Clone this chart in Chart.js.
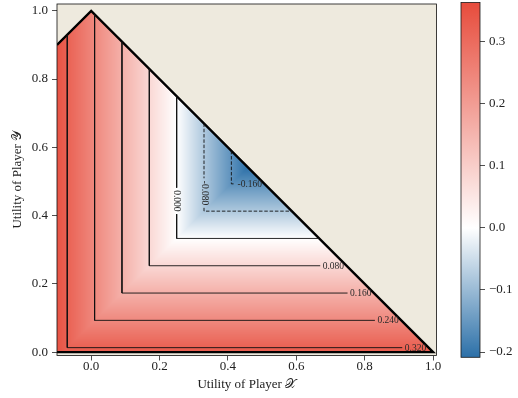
<!DOCTYPE html>
<html>
<head>
<meta charset="utf-8">
<script src="https://cdn.jsdelivr.net/npm/chart.js@4.4.1/dist/chart.umd.min.js"></script>
<style>
  body { margin: 0; background: #fff; }
  #wrap { position: relative; width: 518px; height: 398px; }
  #main { position: absolute; left: 0; top: 0; }
  #cbar { position: absolute; left: 437px; top: 0; }
</style>
</head>
<body>
<div id="wrap">
  <canvas id="main" width="518" height="398"></canvas>
  <canvas id="cbar" width="81" height="398"></canvas>
</div>
<script>
// ticks
const xTicks = [0.0, 0.2, 0.4, 0.6, 0.8, 1.0];
const yTicks = [0.0, 0.2, 0.4, 0.6, 0.8, 1.0];
const cbarTicks = [-0.2, -0.1, 0.0, 0.1, 0.2, 0.3];
// contour levels
const levels = [-0.16, -0.08, 0.0, 0.08, 0.16, 0.24, 0.32];
// payoff frontier (upper chain then back along the bottom)
const frontierX = [-0.1, 0.0, 1.0, -0.1];
const frontierY = [0.9, 1.0, 0.0, 0.0];
// utility at which the surface crosses zero, for X and for Y
const zeroAt = [0.25, 0.333];
// colour range
const valueRange = [-0.2085, 0.3635];

const FONT = "'Liberation Serif', 'DejaVu Serif', serif";
const RED = [231, 76, 60], BLUE = [44, 112, 168], BEIGE = [238, 234, 222];

function surface(x, y) {
  return Math.max(zeroAt[0] - x, zeroAt[1] - y);
}

function colour(v) {
  let t, c;
  if (v >= 0) { t = Math.min(v / valueRange[1], 1); c = RED; }
  else { t = Math.min(v / valueRange[0], 1); c = BLUE; }
  return c.map(k => Math.round(255 + (k - 255) * t));
}

function inside(x, y) {
  let hit = false;
  for (let i = 0, j = frontierX.length - 1; i < frontierX.length; j = i++) {
    const xi = frontierX[i], yi = frontierY[i], xj = frontierX[j], yj = frontierY[j];
    if ((yi > y) !== (yj > y) && x < (xj - xi) * (y - yi) / (yj - yi) + xi) hit = !hit;
  }
  return hit;
}

// frontier height above x (upper chain = first three points)
function topAt(x) {
  for (let i = 0; i < 2; i++) {
    const x0 = frontierX[i], x1 = frontierX[i + 1];
    if (x >= x0 && x <= x1) return frontierY[i] + (x - x0) * (frontierY[i + 1] - frontierY[i]) / (x1 - x0);
  }
  return 0;
}
// frontier x at height y on the falling edge
function rightAt(y) {
  const x0 = frontierX[1], y0 = frontierY[1], x1 = frontierX[2], y1 = frontierY[2];
  return x0 + (y - y0) * (x1 - x0) / (y1 - y0);
}

const labelFont = `9.5px ${FONT}`;
const mctx = document.createElement('canvas').getContext('2d');
mctx.font = labelFont;
const labelText = v => v.toFixed(3);
const labelW = v => mctx.measureText(labelText(v)).width + 5;
// levels whose label sits on the vertical leg, and where
const verticalLabelY = new Map([[0, 0.443], [-0.08, 0.466]]);

// heat map
const surfacePlugin = {
  id: 'surface',
  beforeDraw(chart) {
    const { ctx, chartArea: a, scales: { x, y } } = chart;
    const w = Math.ceil(a.right - a.left), h = Math.ceil(a.bottom - a.top);
    const img = ctx.createImageData(w, h);
    for (let j = 0; j < h; j++) {
      const vy = y.getValueForPixel(a.top + j + 0.5);
      for (let i = 0; i < w; i++) {
        const vx = x.getValueForPixel(a.left + i + 0.5);
        const c = inside(vx, vy) ? colour(surface(vx, vy)) : BEIGE;
        const k = (j * w + i) * 4;
        img.data[k] = c[0]; img.data[k + 1] = c[1]; img.data[k + 2] = c[2]; img.data[k + 3] = 255;
      }
    }
    ctx.putImageData(img, Math.round(a.left), Math.round(a.top));
  }
};

const labelPlugin = {
  id: 'clabels',
  afterDatasetsDraw(chart) {
    const { ctx, scales: { x, y } } = chart;
    ctx.save();
    ctx.font = labelFont;
    ctx.fillStyle = '#2a2a2a';
    ctx.textBaseline = 'middle';
    levels.forEach(v => {
      const xv = zeroAt[0] - v, yh = zeroAt[1] - v;
      if (verticalLabelY.has(v)) {
        ctx.save();
        ctx.translate(x.getPixelForValue(xv), y.getPixelForValue(verticalLabelY.get(v)));
        ctx.rotate(Math.PI / 2);
        ctx.textAlign = 'center';
        ctx.fillText(labelText(v), 0, 0);
        ctx.restore();
      } else {
        ctx.textAlign = 'left';
        ctx.fillText(labelText(v), x.getPixelForValue(rightAt(yh)) - labelW(v) + 2.5, y.getPixelForValue(yh) + 0.5);
      }
    });
    ctx.restore();
  },
  afterDraw(chart) {
    const { ctx, chartArea: a } = chart;
    ctx.save();
    ctx.strokeStyle = '#111';
    ctx.lineWidth = 0.8;
    ctx.strokeRect(a.left, a.top, a.right - a.left, a.bottom - a.top);
    ctx.restore();
  }
};

function axisTicks(values) {
  return scale => { scale.ticks = values.map(v => ({ value: v })); };
}

const tickFont = { family: FONT, size: 13 };

const main = new Chart(document.getElementById('main'), {
  type: 'scatter',
  data: { datasets: [] },
  options: {
    responsive: false,
    animation: false,
    devicePixelRatio: 1,
    layout: { padding: { top: 4, right: 81.5 } },
    plugins: { legend: { display: false }, tooltip: { enabled: false } },
    scales: {
      x: {
        type: 'linear', min: -0.1, max: 1.01,
        afterBuildTicks: axisTicks(xTicks),
        afterFit: s => { s.height = 42.5; s.paddingLeft = 0; s.paddingRight = 0; },
        grid: { drawOnChartArea: false, tickLength: 5, color: '#222', lineWidth: 0.8 },
        border: { display: false },
        ticks: { font: tickFont, color: '#222', padding: -2, maxRotation: 0, autoSkip: false, callback: v => v.toFixed(1) },
        title: { display: true, text: 'Utility of Player \u{1D4B3}', font: tickFont, color: '#222', padding: { top: 0, bottom: 6 } }
      },
      y: {
        type: 'linear', min: -0.01, max: 1.02,
        afterBuildTicks: axisTicks(yTicks),
        afterFit: s => { s.width = 57; s.paddingTop = 0; s.paddingBottom = 0; },
        grid: { drawOnChartArea: false, tickLength: 5, color: '#222', lineWidth: 0.8 },
        border: { display: false },
        ticks: { font: tickFont, color: '#222', padding: 4, autoSkip: false, callback: v => v.toFixed(1) },
        title: { display: true, text: 'Utility of Player \u{1D4B4}', font: tickFont, color: '#222', padding: { top: 10, bottom: 0 } }
      }
    }
  },
  plugins: [surfacePlugin, labelPlugin]
});

// contour lines, broken where their labels go
const sx = main.scales.x, sy = main.scales.y;
const pxPerX = sx.getPixelForValue(1) - sx.getPixelForValue(0);
const pxPerY = sy.getPixelForValue(0) - sy.getPixelForValue(1);

const contourSets = levels.map(v => {
  const xv = zeroAt[0] - v, yh = zeroAt[1] - v;
  const top = topAt(xv), right = rightAt(yh);
  let pts;
  if (verticalLabelY.has(v)) {
    const yc = verticalLabelY.get(v), half = labelW(v) / 2 / pxPerY;
    pts = [{ x: xv, y: top }, { x: xv, y: yc + half }, { x: xv, y: null },
           { x: xv, y: yc - half }, { x: xv, y: yh }, { x: right, y: yh }];
  } else {
    pts = [{ x: xv, y: top }, { x: xv, y: yh }, { x: right - labelW(v) / pxPerX, y: yh }];
  }
  return {
    data: pts, showLine: true, spanGaps: false, pointRadius: 0,
    borderColor: '#111', borderWidth: 0.9,
    borderDash: v < 0 ? [3.5, 1.8] : []
  };
});

const frontierSet = {
  data: frontierX.map((x, i) => ({ x, y: frontierY[i] })),
  showLine: true, pointRadius: 0, borderColor: '#000', borderWidth: 2.4,
  borderJoinStyle: 'miter'
};

main.data.datasets = [...contourSets, frontierSet];
main.update('none');

// colour bar
const cbarPlugin = {
  id: 'cbarFill',
  beforeDatasetsDraw(chart) {
    const { ctx, chartArea: a, scales: { y } } = chart;
    const y0 = y.getPixelForValue(valueRange[0]), y1 = y.getPixelForValue(valueRange[1]);
    const g = ctx.createLinearGradient(0, y0, 0, y1);
    g.addColorStop(0, `rgb(${BLUE.join(',')})`);
    g.addColorStop(-valueRange[0] / (valueRange[1] - valueRange[0]), '#fff');
    g.addColorStop(1, `rgb(${RED.join(',')})`);
    ctx.save();
    ctx.fillStyle = g;
    ctx.fillRect(a.left, a.top, a.right - a.left, a.bottom - a.top);
    ctx.strokeStyle = '#1a1a1a';
    ctx.lineWidth = 0.8;
    ctx.strokeRect(a.left, a.top, a.right - a.left, a.bottom - a.top);
    ctx.restore();
  }
};

new Chart(document.getElementById('cbar'), {
  type: 'scatter',
  data: { datasets: [] },
  options: {
    responsive: false,
    animation: false,
    devicePixelRatio: 1,
    layout: { padding: { left: 24, top: 2.5, bottom: 40.7 } },
    plugins: { legend: { display: false }, tooltip: { enabled: false } },
    scales: {
      x: { display: false, min: 0, max: 1 },
      y: {
        type: 'linear', position: 'right', min: valueRange[0], max: valueRange[1],
        afterBuildTicks: axisTicks(cbarTicks),
        afterFit: s => { s.width = 38; s.paddingTop = 0; s.paddingBottom = 0; },
        grid: { drawOnChartArea: false, tickLength: 5, color: '#222', lineWidth: 0.8 },
        border: { display: false },
        ticks: { font: tickFont, color: '#222', padding: 4, autoSkip: false,
                 callback: v => (v < 0 ? '\u2212' : '') + Math.abs(v).toFixed(1) }
      }
    }
  },
  plugins: [cbarPlugin]
});
</script>
</body>
</html>
